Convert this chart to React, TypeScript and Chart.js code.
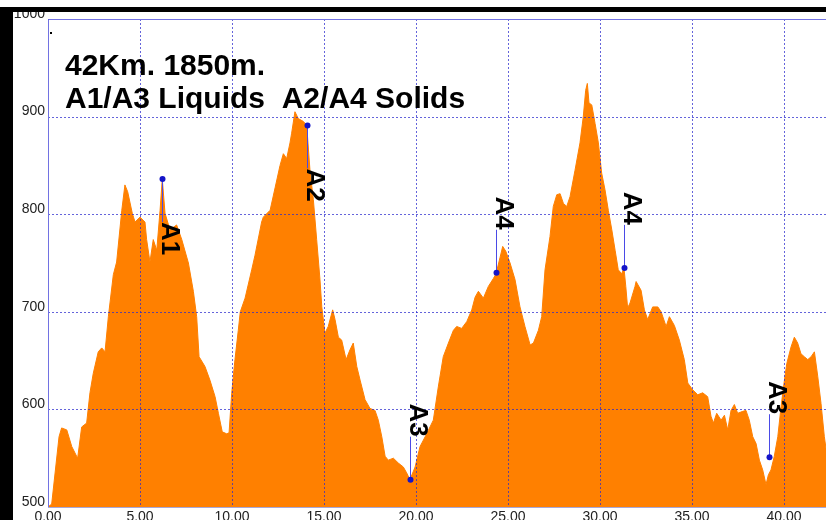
import React, { useEffect, useRef } from "react";
import { Chart, registerables } from "chart.js";

Chart.register(...registerables);

// Course profile: distance (km) and elevation (m)
const distanceKm = [
  0.0, 0.2, 0.6, 0.74, 1.02, 1.29, 1.61, 1.83, 2.1, 2.28, 2.46, 2.73, 2.92, 3.1, 3.28, 3.55, 3.73, 4.01, 4.18,
  4.33, 4.58, 4.73, 5.0, 5.27, 5.36, 5.54, 5.72, 5.91, 6.09, 6.21, 6.36, 6.63, 6.99, 7.27, 7.63, 7.9, 8.08,
  8.21, 8.53, 8.8, 9.08, 9.26, 9.47, 9.71, 9.84, 9.98, 10.16, 10.34, 10.45, 10.71, 11.07, 11.25, 11.61, 11.7,
  12.07, 12.34, 12.61, 12.79, 12.97, 13.15, 13.24, 13.42, 13.6, 13.88, 14.06, 14.24, 14.42, 14.6, 14.78, 14.88,
  15.05, 15.23, 15.47, 15.6, 15.78, 15.96, 16.2, 16.41, 16.59, 16.78, 16.96, 17.23, 17.5, 17.77, 17.95, 18.14,
  18.32, 18.49, 18.77, 19.04, 19.31, 19.49, 19.67, 19.95, 20.22, 20.58, 20.94, 21.21, 21.48, 21.76, 22.03,
  22.21, 22.48, 22.76, 23.03, 23.21, 23.39, 23.66, 23.93, 24.2, 24.35, 24.57, 24.71, 24.88, 25.11, 25.38,
  25.65, 25.92, 26.2, 26.38, 26.65, 26.83, 27.01, 27.28, 27.46, 27.65, 27.83, 28.01, 28.19, 28.37, 28.64,
  28.91, 29.09, 29.22, 29.31, 29.4, 29.55, 29.73, 29.91, 30.09, 30.27, 30.45, 30.64, 30.82, 30.99, 31.18,
  31.3, 31.4, 31.5, 31.63, 31.9, 31.96, 32.23, 32.41, 32.59, 32.86, 33.14, 33.32, 33.59, 33.77, 34.04, 34.31,
  34.58, 34.77, 35.04, 35.31, 35.58, 35.85, 36.03, 36.16, 36.34, 36.58, 36.76, 36.94, 37.12, 37.3, 37.48,
  37.76, 37.93, 38.11, 38.3, 38.48, 38.66, 38.84, 39.02, 39.15, 39.29, 39.47, 39.66, 39.84, 40.02, 40.15,
  40.38, 40.56, 40.74, 40.92, 41.1, 41.29, 41.47, 41.65, 41.83, 42.01, 42.19, 42.28,
];
const elevationM = [
  500, 503, 572, 581, 579, 562, 550, 582, 586, 617, 637, 659, 663, 659, 695, 738, 751, 804, 830,
  823, 801, 792, 797, 792, 774, 751, 774, 763, 804, 836, 801, 784, 789, 774, 750, 721, 695,
  654, 644, 630, 613, 596, 577, 575, 576, 616, 651, 681, 700, 714, 743, 758, 792, 797,
  804, 827, 850, 862, 857, 873, 883, 905, 898, 895, 891, 844, 815, 774, 733, 705,
  678, 685, 702, 692, 674, 671, 651, 661, 668, 644, 630, 610, 601, 599, 589, 572,
  552, 548, 550, 545, 541, 535, 528, 541, 562, 575, 589, 623, 654, 668, 681,
  685, 683, 690, 702, 715, 721, 714, 726, 734, 739, 756, 767, 762, 750, 733,
  705, 685, 666, 668, 681, 695, 743, 777, 808, 820, 821, 811, 808, 818, 845,
  873, 900, 927, 934, 914, 912, 893, 873, 842, 825, 804, 784, 763, 743, 739,
  745, 726, 704, 709, 726, 731, 722, 702, 692, 705, 705, 700, 685, 695, 686, 671,
  651, 627, 620, 615, 617, 613, 593, 586, 596, 589, 594, 579, 599, 605, 596,
  598, 599, 589, 572, 565, 548, 538, 523, 533, 538, 552, 572, 603, 630, 647,
  664, 674, 668, 657, 654, 651, 654, 659, 634, 606, 572, 560,
];

const xTicks = [0, 5, 10, 15, 20, 25, 30, 35, 40];
const yTicks = [500, 600, 700, 800, 900, 1000];

// Aid stations
const markerLabels = ["A1", "A2", "A3", "A4", "A4", "A3"];
const markerKm = [6.21, 14.06, 19.67, 24.35, 31.3, 39.17];
const markerElev = [836, 891, 528, 740, 745, 551];
const markerDir = ["down", "down", "up", "up", "up", "up"];

const titleLines = ["42Km. 1850m.", "A1/A3 Liquids  A2/A4 Solids"];

const FONT = "'Liberation Sans', Arial, Helvetica, sans-serif";

export default function App() {
  const ref = useRef<HTMLCanvasElement>(null);

  useEffect(() => {
    document.body.style.margin = "0";
    document.body.style.overflow = "hidden";
    const canvas = ref.current;
    if (!canvas) return;

    const overlay = {
      id: "overlay",
      afterDatasetsDraw(chart: any) {
        const { ctx, chartArea: a, scales } = chart;
        ctx.save();
        ctx.strokeStyle = "rgba(40,40,205,0.72)";
        ctx.lineWidth = 1;
        ctx.setLineDash([2, 2]);
        for (const v of xTicks) {
          const px = Math.round(scales.x.getPixelForValue(v)) + 0.5;
          ctx.beginPath();
          ctx.moveTo(px, a.top);
          ctx.lineTo(px, a.bottom);
          ctx.stroke();
        }
        for (const v of yTicks) {
          const py = Math.round(scales.y.getPixelForValue(v)) + 0.5;
          ctx.beginPath();
          ctx.moveTo(a.left, py);
          ctx.lineTo(a.right, py);
          ctx.stroke();
        }
        ctx.restore();
      },
      afterDraw(chart: any) {
        const { ctx, chartArea: a, scales } = chart;
        const xs = scales.x;
        const ys = scales.y;
        ctx.save();
        // frame lines
        ctx.setLineDash([]);
        ctx.strokeStyle = "#7272e2";
        ctx.lineWidth = 1;
        ctx.beginPath();
        ctx.moveTo(Math.round(a.left) + 0.5, a.bottom);
        ctx.lineTo(Math.round(a.left) + 0.5, Math.round(a.top) + 0.5);
        ctx.lineTo(a.right, Math.round(a.top) + 0.5);
        ctx.stroke();
        ctx.strokeStyle = "#a8a8d8";
        ctx.beginPath();
        ctx.moveTo(a.left, Math.round(a.bottom) + 0.5);
        ctx.lineTo(a.right, Math.round(a.bottom) + 0.5);
        ctx.stroke();

        // markers
        const lineLen = 43;
        ctx.font = `bold 26px ${FONT}`;
        for (let i = 0; i < markerLabels.length; i++) {
          const px = Math.round(xs.getPixelForValue(markerKm[i]));
          const py = ys.getPixelForValue(markerElev[i]);
          const down = markerDir[i] === "down";
          const end = down ? py + lineLen : py - lineLen;
          ctx.strokeStyle = "#4a4ae6";
          ctx.lineWidth = 1;
          ctx.beginPath();
          ctx.moveTo(px + 0.5, py);
          ctx.lineTo(px + 0.5, end);
          ctx.stroke();
          ctx.fillStyle = "#1414c8";
          ctx.beginPath();
          ctx.arc(px + 0.5, py, 3, 0, Math.PI * 2);
          ctx.fill();
          const w = ctx.measureText(markerLabels[i]).width;
          ctx.save();
          ctx.translate(px, down ? end : end - w);
          ctx.rotate(Math.PI / 2);
          ctx.fillStyle = "#000";
          ctx.textAlign = "left";
          ctx.textBaseline = "alphabetic";
          ctx.fillText(markerLabels[i], 0, 0);
          ctx.restore();
        }

        // title
        ctx.fillStyle = "#000";
        ctx.font = `bold 30px ${FONT}`;
        ctx.textAlign = "left";
        ctx.textBaseline = "alphabetic";
        ctx.fillText(titleLines[0], 65, 75);
        ctx.fillText(titleLines[1], 65, 108);
        ctx.fillRect(50, 32, 2, 2);
        ctx.restore();
      },
    };

    const chart = new Chart(canvas, {
      type: "line",
      data: {
        datasets: [
          {
            data: distanceKm.map((x, i) => ({ x, y: elevationM[i] })),
            backgroundColor: "#ff8000",
            borderColor: "#ff8000",
            borderWidth: 1,
            pointRadius: 0,
            fill: "start",
            tension: 0,
          },
        ],
      },
      options: {
        responsive: false,
        animation: false,
        events: [],
        layout: { padding: { top: 19, left: 0, right: 0, bottom: 0 } },
        plugins: { legend: { display: false }, tooltip: { enabled: false } },
        scales: {
          x: {
            type: "linear",
            min: 0,
            max: 42.28,
            afterBuildTicks: (s: any) => {
              s.ticks = xTicks.map((v) => ({ value: v }));
            },
            afterFit: (s: any) => {
              s.height = 33;
            },
            ticks: {
              callback: (v: any) => Number(v).toFixed(2),
              font: { family: FONT, size: 14 },
              color: "#222",
              padding: 2,
              maxRotation: 0,
              autoSkip: false,
            },
            grid: { display: false, drawTicks: false, tickLength: 0 },
            border: { display: false },
          },
          y: {
            type: "linear",
            min: 500,
            max: 1000,
            afterBuildTicks: (s: any) => {
              s.ticks = yTicks.map((v) => ({ value: v }));
            },
            afterFit: (s: any) => {
              s.width = 48;
            },
            ticks: {
              callback: (v: any) => String(v),
              font: { family: FONT, size: 14 },
              color: "#222",
              padding: 3,
              labelOffset: -5,
            },
            grid: { display: false, drawTicks: false, tickLength: 0 },
            border: { display: false },
          },
        },
      },
      plugins: [overlay],
    } as any);

    return () => chart.destroy();
  }, []);

  return (
    <div
      style={{
        position: "fixed",
        left: 0,
        top: 0,
        width: 826,
        height: 520,
        overflow: "hidden",
        background: "#fff",
      }}
    >
      <canvas
        ref={ref}
        width={826}
        height={540}
        style={{ position: "absolute", left: 0, top: 0, width: 826, height: 540 }}
      />
      <div style={{ position: "absolute", left: 0, top: 7, width: 826, height: 5, background: "#000" }} />
      <div style={{ position: "absolute", left: 0, top: 7, width: 13, height: 513, background: "#000" }} />
    </div>
  );
}
